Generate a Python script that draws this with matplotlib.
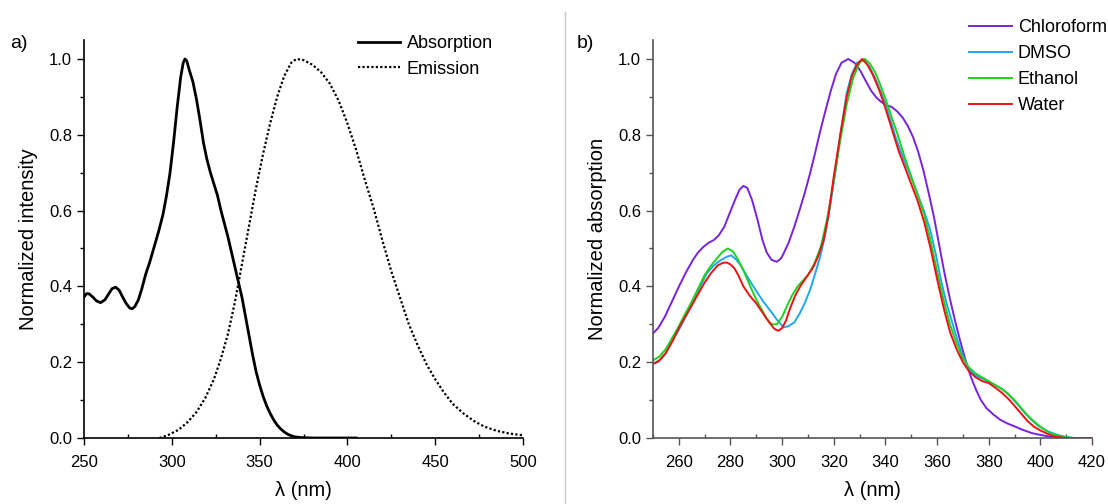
import matplotlib.pyplot as plt
from matplotlib.ticker import MultipleLocator
from matplotlib.lines import Line2D

plt.rcParams['font.family'] = ['Liberation Sans', 'DejaVu Sans']

# panel a) absorption / emission
abs_x = [250, 251.5, 253, 255, 257, 259.5, 262, 264, 266, 268, 270, 272, 274, 276, 277.5,
         279, 281, 283, 285, 287.5, 290, 292.5, 295, 297, 299, 301, 303, 305, 306.5,
         307.5, 308.5, 310, 312, 314, 316, 318, 320, 322, 324, 326, 328, 330, 332, 334,
         336, 338, 340, 342, 344, 346, 348, 350, 352, 354, 356, 358, 360, 362, 364, 366,
         368, 370, 374, 380, 405]
abs_y = [0.372, 0.381, 0.38, 0.372, 0.362, 0.357, 0.365, 0.38, 0.394, 0.398, 0.39, 0.372,
         0.355, 0.343, 0.341, 0.347, 0.365, 0.395, 0.43, 0.465, 0.505, 0.545, 0.59, 0.64,
         0.70, 0.78, 0.87, 0.95, 0.99, 1.0, 0.995, 0.97, 0.94, 0.895, 0.84, 0.78, 0.735,
         0.70, 0.67, 0.64, 0.60, 0.565, 0.53, 0.49, 0.45, 0.41, 0.37, 0.32, 0.27, 0.22,
         0.175, 0.14, 0.11, 0.085, 0.065, 0.048, 0.034, 0.024, 0.016, 0.01, 0.006, 0.003,
         0.001, 0.0, 0.0]

em_x = [293, 298, 304, 309, 314, 319, 324, 328, 332, 336, 340, 344, 348, 352, 356,
        360, 364, 368, 371, 375, 380, 385, 390, 395, 400, 405, 410, 415, 420, 425,
        430, 435, 440, 445, 450, 455, 460, 466, 472, 478, 485, 492, 500]
em_y = [0.0, 0.008, 0.022, 0.042, 0.068, 0.105, 0.155, 0.21, 0.275, 0.36, 0.46, 0.56,
        0.66, 0.75, 0.83, 0.9, 0.955, 0.99, 1.0, 0.997, 0.985, 0.965, 0.935, 0.89, 0.83,
        0.76, 0.68, 0.605, 0.52, 0.44, 0.37, 0.3, 0.245, 0.195, 0.155, 0.12, 0.09, 0.065,
        0.045, 0.03, 0.019, 0.012, 0.007]

# panel b) solvents
chl_x = [250, 252, 254.6, 257, 260, 263, 265.4, 267.5, 269.5, 271.5, 273.5, 275.5, 277.6,
         279.5, 281.7, 283.5, 285, 286.5, 288.4, 290.5, 292.4, 294, 295.9, 297.9, 299.5,
         300.6, 302.5, 304.7, 306.7, 308.7, 310.7, 312.7, 314.7, 316.8, 318.8, 320.9, 323,
         325.6, 328, 330.3, 332.3, 334.4, 336.5, 338.5, 340.5, 342.5, 344.5, 346.6, 348.7,
         350.7, 352.7, 354.7, 356.7, 358.8, 360.8, 362.9, 364.9, 366.9, 369, 371, 373,
         375.1, 377, 379.1, 381.8, 384.5, 387, 389.9, 393, 396.7, 400, 403.5, 407, 410.2, 420]
chl_y = [0.276, 0.29, 0.32, 0.355, 0.399, 0.44, 0.469, 0.49, 0.504, 0.515, 0.522, 0.535,
         0.557, 0.59, 0.627, 0.655, 0.665, 0.66, 0.627, 0.575, 0.522, 0.49, 0.47, 0.465,
         0.473, 0.487, 0.515, 0.557, 0.6, 0.645, 0.695, 0.75, 0.808, 0.864, 0.915, 0.961,
         0.99, 1.0, 0.99, 0.969, 0.943, 0.917, 0.898, 0.886, 0.878, 0.873, 0.862, 0.846,
         0.823, 0.794, 0.755, 0.706, 0.648, 0.583, 0.51, 0.434, 0.37, 0.311, 0.255, 0.206,
         0.163, 0.127, 0.1, 0.079, 0.062, 0.048, 0.039, 0.031, 0.022, 0.013, 0.008, 0.004,
         0.001, 0.0, 0.0]

dmso_x = [250, 252, 254.6, 257, 260, 262.5, 265.4, 268, 270.8, 273.5, 276.2, 278.5, 280.3,
          282.3, 284.3, 287, 289.8, 292.5, 295.2, 298, 300.6, 302.5, 304.7, 306.7, 308.7,
          310.8, 312.8, 314.8, 316.8, 318.8, 320.9, 323, 325, 327, 329, 331.7, 333.8,
          335.8, 337.8, 339.8, 341.9, 343.9, 346, 348, 350.7, 353.4, 355.4, 357.4, 359.5,
          361.5, 363.5, 365.6, 367.6, 369.6, 371.6, 373.7, 376.4, 379.1, 381.8, 384.5,
          386.5, 388.6, 391.3, 394, 396.7, 399.4, 402.8, 406.2, 409.6, 413, 420]
dmso_y = [0.197, 0.2, 0.219, 0.25, 0.285, 0.318, 0.355, 0.395, 0.434, 0.455, 0.469, 0.478,
          0.482, 0.47, 0.452, 0.42, 0.39, 0.362, 0.338, 0.312, 0.292, 0.295, 0.305, 0.327,
          0.355, 0.39, 0.434, 0.48, 0.54, 0.62, 0.715, 0.82, 0.91, 0.96, 0.99, 0.998,
          0.98, 0.952, 0.92, 0.885, 0.84, 0.795, 0.755, 0.72, 0.675, 0.627, 0.59, 0.548,
          0.485, 0.417, 0.36, 0.311, 0.265, 0.224, 0.192, 0.171, 0.16, 0.152, 0.142, 0.132,
          0.122, 0.108, 0.088, 0.066, 0.047, 0.031, 0.018, 0.009, 0.003, 0.0, 0.0]

eth_x = [250, 252.5, 255, 257.5, 260, 262.5, 265, 267.5, 270, 272.5, 275, 277, 279, 281,
         283, 285.5, 288, 290, 292, 294, 296, 298, 300, 302, 304, 306, 308, 310, 312.5,
         315, 317.5, 320, 322.5, 325, 327.5, 330, 332, 334, 336, 338, 340, 342.5, 345,
         347.5, 350, 352.5, 355, 357.5, 360, 362.5, 365, 367.5, 370, 372.5, 375, 377.5,
         380, 382.5, 385, 387.5, 390, 392.5, 395, 397.5, 400, 402.5, 405, 407.5, 410,
         413, 420]
eth_y = [0.205, 0.215, 0.235, 0.265, 0.295, 0.328, 0.36, 0.395, 0.43, 0.455, 0.476, 0.492,
         0.50, 0.492, 0.47, 0.435, 0.395, 0.365, 0.34, 0.315, 0.30, 0.30, 0.32, 0.35,
         0.378, 0.40, 0.415, 0.43, 0.46, 0.505, 0.58, 0.68, 0.785, 0.88, 0.95, 0.99, 1.0,
         0.988, 0.965, 0.932, 0.895, 0.845, 0.795, 0.74, 0.69, 0.64, 0.59, 0.52, 0.44,
         0.365, 0.30, 0.25, 0.21, 0.185, 0.17, 0.16, 0.15, 0.14, 0.13, 0.117, 0.10, 0.08,
         0.06, 0.044, 0.03, 0.018, 0.01, 0.005, 0.002, 0.0, 0.0]

wat_x = [250, 252.5, 255, 257.5, 260, 262.5, 265, 267.5, 270, 272.5, 275, 277, 278.5, 280,
         281.5, 283, 285, 287.5, 290, 292.5, 295, 297, 298.5, 300, 301.5, 303, 305, 307,
         309.5, 312, 314, 316, 318, 320, 322.5, 325, 327, 329, 331, 333, 335, 337.5, 340,
         342.5, 345, 347.5, 350, 352.5, 355, 357.5, 360, 362.5, 365, 367.5, 370, 372.5,
         375, 377.5, 380, 382.5, 385, 387.5, 390, 392.5, 395, 397.5, 400, 402.5, 405,
         407.5, 410, 420]
wat_y = [0.195, 0.205, 0.225, 0.255, 0.29, 0.32, 0.35, 0.38, 0.41, 0.435, 0.455, 0.462,
         0.463, 0.458, 0.448, 0.43, 0.40, 0.375, 0.355, 0.33, 0.305, 0.288, 0.283, 0.29,
         0.31, 0.34, 0.375, 0.40, 0.425, 0.45, 0.48, 0.52, 0.59, 0.69, 0.80, 0.90, 0.955,
         0.985, 1.0, 0.985, 0.96, 0.92, 0.87, 0.815, 0.76, 0.715, 0.67, 0.625, 0.57, 0.5,
         0.42, 0.345, 0.28, 0.235, 0.20, 0.175, 0.16, 0.15, 0.145, 0.133, 0.12, 0.104,
         0.085, 0.065, 0.045, 0.03, 0.02, 0.012, 0.005, 0.002, 0.0, 0.0]

W, H = 1108, 504
fig = plt.figure(figsize=(W / 100, H / 100), dpi=100)

# divider line between panels
fig.add_artist(Line2D([565 / W, 565 / W], [0, 492 / H], color='#c8c8c8', lw=1))


def style_axes(ax, color):
    for s in ['top', 'right']:
        ax.spines[s].set_visible(False)
    for s in ['left', 'bottom']:
        ax.spines[s].set_color(color)
        ax.spines[s].set_linewidth(1.2)
    ax.set_ylim(0, 1.05)
    ax.yaxis.set_major_locator(MultipleLocator(0.2))
    ax.yaxis.set_minor_locator(MultipleLocator(0.1))
    ax.tick_params(which='major', direction='out', length=5, width=1, color=color,
                   labelsize=12)
    ax.tick_params(which='minor', direction='out', length=3, width=1, color=color)
    ax.tick_params(axis='x', which='minor', direction='in')
    ax.tick_params(axis='x', which='major', pad=7)
    ax.yaxis.set_major_formatter(plt.FuncFormatter(lambda v, p: f'{v:.1f}'))


# a)
ax1 = fig.add_axes([84 / W, 66 / H, 439 / W, 398 / H])
ax1.plot(abs_x, abs_y, color='black', lw=2, label='Absorption')
ax1.plot(em_x, em_y, color='black', lw=1.6, ls=(0, (1, 1)), label='Emission')
ax1.set_xlim(250, 500)
ax1.xaxis.set_major_locator(MultipleLocator(50))
ax1.xaxis.set_minor_locator(MultipleLocator(25))
style_axes(ax1, 'black')
ax1.set_xlabel('λ (nm)', fontsize=14.5, labelpad=8)
ax1.set_ylabel('Normalized intensity', fontsize=14.5, labelpad=8)
fig.legend(handles=ax1.get_lines(), loc='upper left',
           bbox_to_anchor=(358 / W, 1 - 35 / H), frameon=False, fontsize=13,
           handlelength=2.3, handletextpad=0.4, labelspacing=0.48, borderpad=0,
           borderaxespad=0)
fig.text(10 / W, 1 - 44 / H, 'a)', fontsize=14, va='center')

# b)
ax2 = fig.add_axes([653 / W, 66 / H, 439 / W, 398 / H])
ax2.plot(chl_x, chl_y, color='#7a22d8', lw=1.4, label='Chloroform')
ax2.plot(dmso_x, dmso_y, color='#1ea8ee', lw=1.4, label='DMSO')
ax2.plot(eth_x, eth_y, color='#1fd21f', lw=1.4, label='Ethanol')
ax2.plot(wat_x, wat_y, color='#ee1111', lw=1.4, label='Water')
ax2.set_xlim(250, 420)
ax2.xaxis.set_major_locator(MultipleLocator(20))
ax2.xaxis.set_minor_locator(MultipleLocator(10))
style_axes(ax2, '#555555')
ax2.set_xlabel('λ (nm)', fontsize=14.5, labelpad=8)
ax2.set_ylabel('Normalized absorption', fontsize=14.5, labelpad=8)
fig.legend(handles=ax2.get_lines(), loc='upper left',
           bbox_to_anchor=(969 / W, 1 - 19 / H), frameon=False, fontsize=13,
           handlelength=2.4, handletextpad=0.3, labelspacing=0.5, borderpad=0,
           borderaxespad=0)
fig.text(577 / W, 1 - 44 / H, 'b)', fontsize=14, va='center')

fig.savefig('out.png', dpi=100)
